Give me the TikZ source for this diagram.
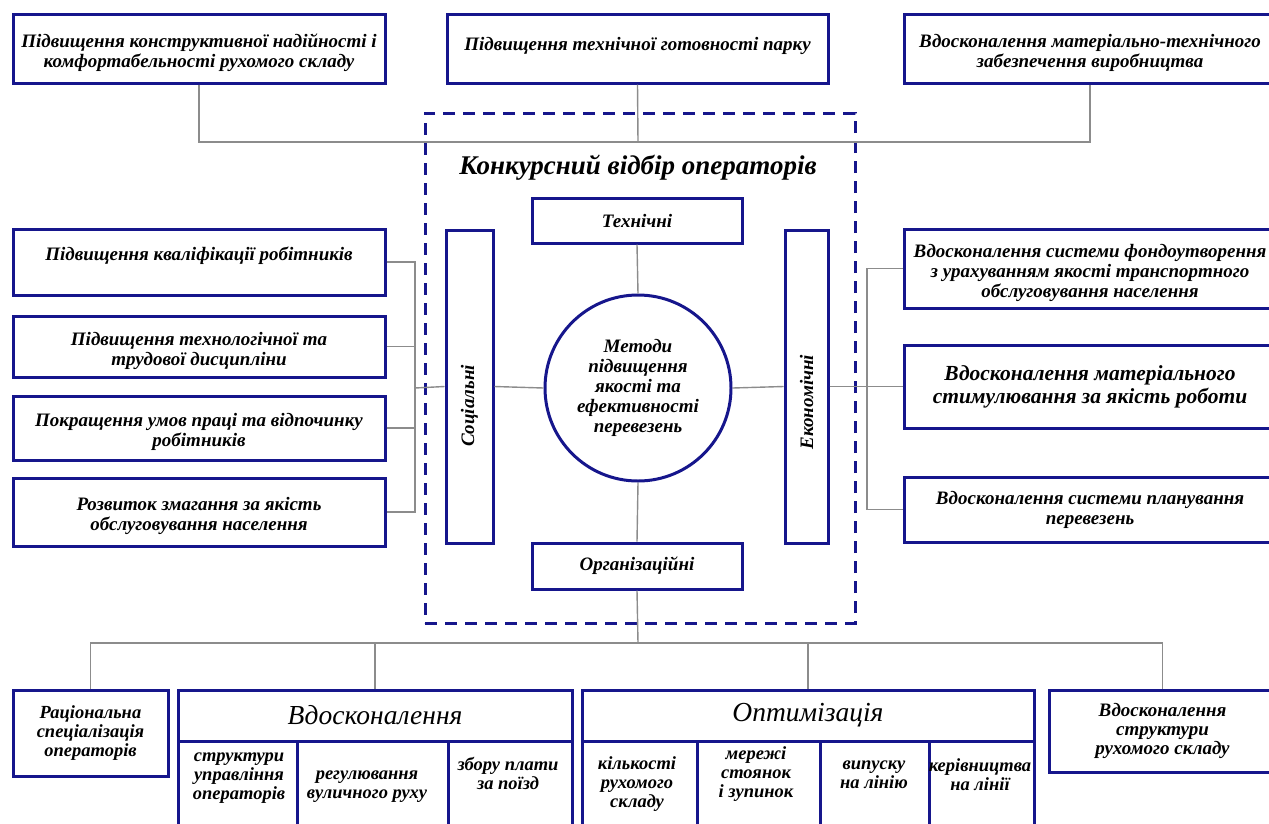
\documentclass[tikz,border=0pt]{standalone}
\usepackage{fontspec}
\setmainfont{Liberation Serif}
\usetikzlibrary{positioning}
\definecolor{boxblue}{RGB}{22,22,140}
\definecolor{linegray}{RGB}{140,140,140}

\begin{document}
\begin{tikzpicture}[x=1pt,y=-1pt,font=\bfseries\itshape\fontsize{19}{20}\selectfont]
        \tikzstyle{box}=[draw=boxblue, line width=3pt, align=center, inner sep=2pt]
        \tikzstyle{lowtwo}=[text height=42pt]
        \tikzstyle{frame}=[draw=boxblue, line width=3pt, dash pattern=on 12pt off 8pt]
        \tikzstyle{txt}=[align=center, inner sep=0pt]
        \tikzstyle{conn}=[draw=linegray, line width=1.4pt]
        \tikzstyle{small}=[font=\bfseries\itshape\fontsize{18.5}{19}\selectfont]
        \tikzstyle{head}=[font=\itshape\fontsize{27.5}{30}\selectfont]

        \useasboundingbox (0,0) rectangle (1269,823);
        \clip (0,0) rectangle (1269,823);

        % top row
        \node[box, lowtwo, minimum width=372pt, minimum height=69pt] (top1) at (199,48.5)
            {Підвищення конструктивної надійності і\\комфортабельності рухомого складу};
        \node[box, minimum width=381pt, minimum height=69pt, text height=18pt, text depth=14pt] (top2) at (637.5,48.5)
            {Підвищення технічної готовності парку};
        \node[box, lowtwo, minimum width=372pt, minimum height=69pt] (top3) at (1090,48.5)
            {Вдосконалення матеріально-технічного\\забезпечення виробництва};

        % dashed frame
        \node[frame, minimum width=430pt, minimum height=510pt] (frame) at (640,368) {};
        \node[txt, font=\bfseries\itshape\fontsize{27}{30}\selectfont] (title) at (638,168)
            {Конкурсний відбір операторів};

        % methods
        \node[box, circle, minimum size=186pt, txt] (methods) at (638,388)
            {Методи\\підвищення\\якості та\\ефективності\\перевезень};
        \node[box, minimum width=210pt, minimum height=45pt] (tech) at (637,220.5) {Технічні};
        \node[box, minimum width=210pt, minimum height=46pt] (org) at (637,566) {Організаційні};
        \node[box, minimum width=47pt, minimum height=313pt] (soc) at (469.5,386.5) {};
        \node[txt, rotate=90] (soctxt) at (469.5,406) {Соціальні};
        \node[box, minimum width=43pt, minimum height=313pt] (econ) at (806.5,386.5) {};
        \node[txt, rotate=90] (econtxt) at (806.5,402) {Економічні};

        % left column
        \node[box, minimum width=372pt, minimum height=66pt, text depth=17pt] (l1) at (199,262)
            {Підвищення кваліфікації робітників};
        \node[box, lowtwo, minimum width=372pt, minimum height=61pt] (l2) at (199,346.5)
            {Підвищення технологічної та\\трудової дисципліни};
        \node[box, lowtwo, minimum width=372pt, minimum height=64pt] (l3) at (199,428)
            {Покращення умов праці та відпочинку\\робітників};
        \node[box, lowtwo, minimum width=372pt, minimum height=68pt] (l4) at (199,512)
            {Розвиток змагання за якість\\обслуговування населення};

        % right column
        \node[box, minimum width=372pt, minimum height=79pt, text height=63pt] (r1) at (1090,268.5)
            {Вдосконалення системи фондоутворення\\з урахуванням якості транспортного\\обслуговування населення};
        \node[box, minimum width=372pt, minimum height=83pt, font=\bfseries\itshape\fontsize{21.5}{23}\selectfont] (r2) at (1090,386.5)
            {Вдосконалення матеріального\\стимулювання за якість роботи};
        \node[box, minimum width=372pt, minimum height=65pt] (r3) at (1090,509.5)
            {Вдосконалення системи планування\\перевезень};

        % bottom row
        \node[box, minimum width=155pt, minimum height=86pt, font=\bfseries\itshape\fontsize{18.5}{19}\selectfont] (rac) at (90.5,733)
            {Раціональна\\спеціалізація\\операторів};
        \node[box, minimum width=394pt, minimum height=51pt, head] (vdosk) at (375,715.5) {Вдосконалення};
        \node[box, minimum width=119pt, minimum height=99pt] (vd1) at (237.5,790.5) {};
        \node[box, minimum width=151pt, minimum height=99pt] (vd2) at (372.5,790.5) {};
        \node[box, minimum width=124pt, minimum height=99pt] (vd3) at (510,790.5) {};
        \node[txt, small] (vd1txt) at (239,778.5) {структури\\управління\\операторів};
        \node[txt, small] (vd2txt) at (367,787) {регулювання\\вуличного руху};
        \node[txt, small] (vd3txt) at (508,773) {збору плати\\за поїзд};

        \node[box, minimum width=452pt, minimum height=51pt, head] (optim) at (808,715.5) {Оптимізація};
        \node[box, minimum width=115pt, minimum height=99pt] (op1) at (639.5,790.5) {};
        \node[box, minimum width=123pt, minimum height=99pt] (op2) at (758.5,790.5) {};
        \node[box, minimum width=109pt, minimum height=99pt] (op3) at (874.5,790.5) {};
        \node[box, minimum width=105pt, minimum height=99pt] (op4) at (981.5,790.5) {};
        \node[txt, small] (op1txt) at (637,784) {кількості\\рухомого\\складу};
        \node[txt, small] (op2txt) at (756,774) {мережі\\стоянок\\і зупинок};
        \node[txt, small] (op3txt) at (874,775) {випуску\\на лінію};
        \node[txt, small] (op4txt) at (980,775) {керівництва\\на лінії};

        \node[box, minimum width=227pt, minimum height=82pt, font=\bfseries\itshape\fontsize{19}{19}\selectfont] (last) at (1162.5,731)
            {Вдосконалення\\структури\\рухомого складу};

        % junctions
        \coordinate (tbus) at (638,142);
        \coordinate (bbus) at (638,643);
        \coordinate (lbr) at (415,388);
        \coordinate (rbr) at (867,388);

        % connectors
        \draw[conn] (top1.south) |- (tbus) -| (top3.south);
        \draw[conn] (top2.south) -- (tbus);

        \draw[conn] (tech.south) -- (methods.north);
        \draw[conn] (methods.south) -- (org.north);
        \draw[conn] (methods.west) -- (soc.east);
        \draw[conn] (methods.east) -- (econ.west);

        \draw[conn] (l1.east) -| (lbr) |- (l4.east);
        \draw[conn] (l2.east) -- (l2.east -| lbr);
        \draw[conn] (l3.east) -- (l3.east -| lbr);
        \draw[conn] (lbr) -- (soc.west);

        \draw[conn] (r1.west) -| (rbr) |- (r3.west);
        \draw[conn] (econ.east) -- (r2.west);

        \draw[conn] (org.south) -- (bbus);
        \draw[conn] (rac.north) |- (bbus) -| (last.north);
        \draw[conn] (vdosk.north) -- (vdosk.north |- bbus);
        \draw[conn] (optim.north) -- (optim.north |- bbus);
\end{tikzpicture}
\end{document}
